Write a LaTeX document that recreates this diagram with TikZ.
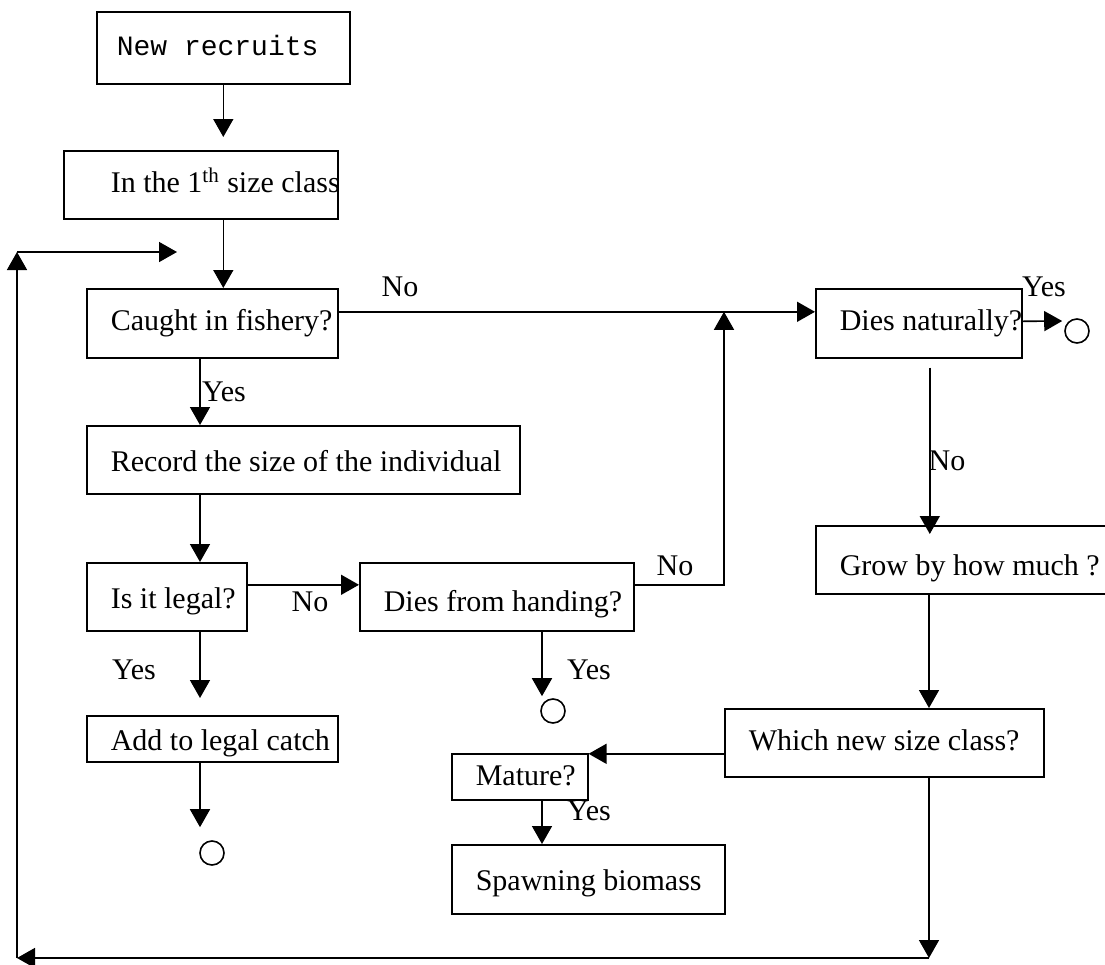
\documentclass[tikz,border=0pt]{standalone}
\usepackage{fontspec}
\setmainfont{Liberation Serif}
\newfontfamily\courier{Liberation Mono}
\usetikzlibrary{arrows.meta}
\newcommand{\bt}[2]{\hbox to #1{\hskip12pt #2\hss}}
\begin{document}
\begin{tikzpicture}[x=.5pt,y=-.5pt, line width=.8pt, font=\fontsize{15}{18}\selectfont,
 box/.style 2 args={draw, inner sep=0pt, anchor=north west, text height=#1, text depth=#2},
 lab/.style={inner sep=0pt},
 endc/.style={circle, draw, minimum size=12pt, inner sep=0pt},
 arr/.style={-{Triangle[length=9pt,width=10pt]}}]
\useasboundingbox (0,0) rectangle (1105,965);
% boxes
\node[box={22pt}{14pt}] (rec) at (96,11) {\bt{126.5pt}{\hspace{-2pt}\courier\fontsize{14}{16}\selectfont New recruits}};
\node[box={21pt}{13pt}] (first) at (63,150) {\bt{137pt}{\hspace{11.5pt}In the 1\textsuperscript{th} size class}};
\node[box={21pt}{13.5pt}] (caught) at (86,288) {\bt{125.5pt}{Caught in fishery?}};
\node[box={23pt}{11pt}] (record) at (86,425) {\bt{216.5pt}{Record the size of the individual}};
\node[box={23pt}{11pt}] (legal) at (86,562) {\bt{80pt}{Is it legal?}};
\node[box={24.5pt}{9.5pt}] (handing) at (359,562) {\bt{137pt}{Dies from handing?}};
\node[box={17.5pt}{5.5pt}] (addcatch) at (86,715) {\bt{125.5pt}{Add to legal catch}};
\node[box={21pt}{13.5pt}] (natural) at (815,288) {\bt{103pt}{Dies naturally?}};
\node[box={25pt}{9pt}] (grow) at (815,525) {\bt{150pt}{Grow by how much ?}};
\node[box={21pt}{13pt}] (which) at (724,708) {\bt{159.5pt}{Which new size class?}};
\node[box={16pt}{7pt}] (mature) at (451,753) {\bt{68pt}{Mature?}};
\node[box={23pt}{11.5pt}] (spawn) at (451,844) {\bt{136.5pt}{Spawning biomass}};
% end points
\node[endc] (c1) at (212,853) {};
\node[endc] (c2) at (553,711) {};
\node[endc] (c3) at (1077,331) {};
\coordinate (br) at (929,958); \coordinate (bl) at (17,958);
\coordinate (tl) at (17,252); \coordinate (tr) at (177,252);
% labels
\node[lab] (no1) at (400,287) {No};
\node[lab] (yes1) at (224,392) {Yes};
\node[lab] (yes2) at (134,670) {Yes};
\node[lab] (no2) at (310,602) {No};
\node[lab] (no3) at (675,566) {No};
\node[lab] (yes3) at (589,670) {Yes};
\node[lab] (yes4) at (1044,287) {Yes};
\node[lab] (no4) at (947,461) {No};
\node[lab] (yes5) at (589,811) {Yes};
% arrows
\draw[arr] (rec.south) -- ([yshift=6.5pt]rec.south |- first.north);
\draw[arr] (rec.south |- first.south) -- (rec.south |- caught.north);
\draw[arr] ([shift={(114,0)}]caught.south west) -- ([shift={(114,0)}]record.north west);
\draw[arr] ([shift={(114,0)}]record.south west) -- ([shift={(114,0)}]legal.north west);
\draw[arr] ([shift={(114,0)}]legal.south west) -- ([shift={(114,-17)}]addcatch.north west);
\draw[arr] ([shift={(114,0)}]addcatch.south west) -- ([shift={(-12,-13)}]c1.north);
\draw[arr] ([yshift=6pt]legal.east) -- ([yshift=6pt]legal.east -| handing.west);
\draw[arr] ([shift={(183,0)}]handing.south west) -- ([shift={(-11,-2)}]c2.north);
\draw[arr] ([yshift=6pt]handing.east) -| ([shift={(-91,-11.5)}]natural.west);
\draw[arr] ([yshift=5.75pt]caught.east) -- ([yshift=5.75pt]natural.west);
\draw[arr] ([yshift=1pt]natural.east) -- ([shift={(-2,-10)}]c3.west);
\draw[arr] ([shift={(11,9)}]natural.south) -- ([shift={(11,9)}]natural.south |- grow.north);
\draw[arr] ([shift={(114,0)}]grow.south west) -- ([shift={(114,0)}]grow.south west |- which.north);
\draw[arr] ([yshift=-5.5pt]which.west) -- ([yshift=-5.5pt]which.west -| mature.east);
\draw[arr] ([shift={(91,0)}]mature.south west) -- ([shift={(91,0)}]spawn.north west);
\draw[arr] ([shift={(205,0)}]which.south west) -- (br);
\draw[arr] (br) -- (bl);
\draw[arr] (bl) -- (tl);
\draw[arr] (tl) -- (tr);
\end{tikzpicture}
\end{document}
